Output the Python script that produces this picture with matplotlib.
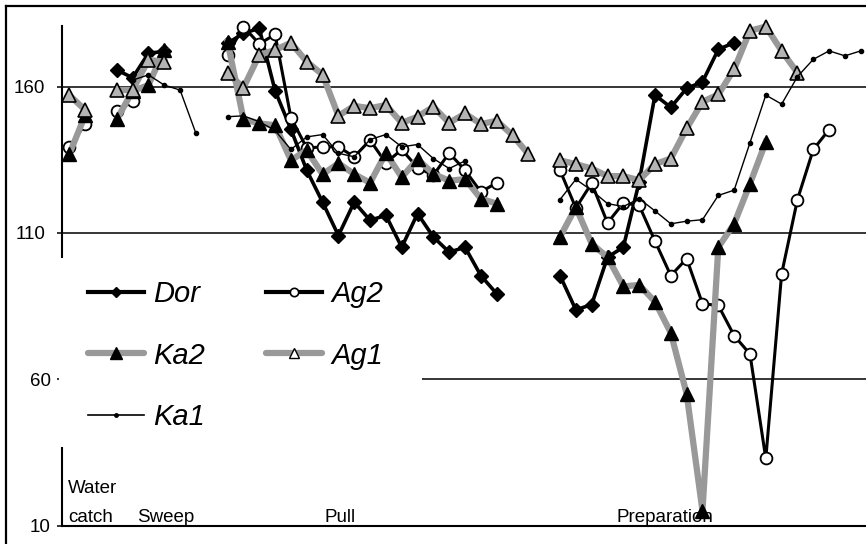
import matplotlib
matplotlib.use('Agg')
import matplotlib.pyplot as plt
from matplotlib.lines import Line2D
from matplotlib.patches import Rectangle
import numpy as np

N = None
# 51 category slots: 0-1 water catch, 3-8 sweep, 10-29 pull, 31-50 preparation
categories = list(range(51))

dor = [N, N, N,
       165.7, 163.0, 171.4, 172.0, N, N, N,
       174.8, 178.2, 179.9, 158.6, 145.4, 131.4, 120.5, 109.1, 120.5, 114.3,
       116.0, 105.1, 116.6, 108.6, 103.4, 105.1, 95.4, 89.2, N, N, N,
       95.4, 83.7, 85.5, 101.7, 105.1, 127.4, 157.1, 152.9, 159.4, 161.6,
       172.7, 175.0, N, N, N, N, N, N, N, N]

ag2 = [139.4, 147.1, N,
       151.6, 155.0, N, N, N, N, N,
       170.8, 180.5, 174.6, 177.8, 149.4, 139.0, 139.4, 139.4, 136.0, 141.7,
       133.9, 138.5, 132.3, 129.7, 137.3, 131.4, 124.0, 127.1, N, N, N,
       131.4, 118.5, 127.0, 113.4, 120.2, 119.4, 107.2, 95.4, 101.2, 85.8,
       85.2, 74.9, 68.6, 32.9, 96.0, 121.4, 138.5, 145.3, N, N]

ka2 = [136.9, 150.2, N,
       148.8, 158.5, 160.5, 172.5, N, N, N,
       175.3, 148.9, 147.4, 146.8, 134.8, 138.3, 130.0, 133.8, 130.1, 127.1,
       137.3, 129.0, 135.2, 130.2, 127.8, 128.4, 121.7, 120.0, N, N, N,
       108.6, 118.8, 106.3, 101.7, 91.7, 92.2, 86.5, 75.8, 55.0, 15.0,
       105.1, 113.1, 126.8, 141.1, N, N, N, N, N, N]

ag1 = [157.1, 152.0, N,
       158.8, 158.8, 169.1, 168.5, N, N, N,
       164.7, 159.6, 170.8, 172.5, 175.0, 168.5, 164.1, 150.0, 153.4, 152.6,
       153.7, 147.6, 149.7, 153.1, 147.6, 150.8, 147.2, 148.3, 143.4, 136.9, N,
       134.8, 133.5, 132.0, 129.4, 129.4, 128.0, 133.5, 135.4, 145.7, 154.8,
       157.3, 165.9, 179.1, 180.5, 172.2, 164.7, N, N, N, N]

ka1 = [N, N, N,
       N, 162.2, 164.0, 160.5, 158.8, 144.0, N,
       149.7, 150.0, 148.0, 145.0, 138.5, 142.8, 143.6, 137.2, 136.0, 141.9,
       143.6, 139.4, 140.2, 135.4, 132.0, 134.6, N, N, N, N, N,
       121.4, 128.3, 124.5, 120.0, 119.0, 121.7, 117.5, 113.1, 114.0, 114.5,
       122.8, 124.6, 140.8, 157.1, 154.0, 163.4, 169.3, 172.2, 170.5, 172.2]

series_names = ['Dor', 'Ag2', 'Ka2', 'Ag1', 'Ka1']
y_ticks = [10, 60, 110, 160]
phase_labels = ['Water', 'catch', 'Sweep', 'Pull', 'Preparation']

W, H = 866, 544
plt.rcParams['font.family'] = ['Liberation Sans', 'DejaVu Sans']
fig = plt.figure(figsize=(W / 100, H / 100), dpi=100)


def fx(px):
    return px / W


def fy(py):
    return 1 - py / H


ax = fig.add_axes([fx(62), fy(525.5), (W - 62) / W, (525.5 - 26) / H])
ax.set_xlim(-0.461, 50.33)
ax.set_ylim(10, 180.7)

x = np.array(categories, dtype=float)


def arr(v):
    return np.array([np.nan if a is None else a for a in v], dtype=float)


GRAY = '#999999'
ax.plot(x, arr(dor), color='black', lw=2.6, marker='D', ms=7.5, mfc='black',
        mec='black', zorder=3, clip_on=False, solid_joinstyle='round')
ax.plot(x, arr(ag2), color='black', lw=2.2, marker='o', ms=8.5, mfc='white',
        mec='black', mew=1.3, zorder=4, clip_on=False, solid_joinstyle='round')
ax.plot(x, arr(ka2), color=GRAY, lw=4.5, marker='^', ms=9.5, mfc='black',
        mec='black', zorder=5, clip_on=False, solid_joinstyle='round')
ax.plot(x, arr(ag1), color=GRAY, lw=4.5, marker='^', ms=10, mfc='#b4b4b4',
        mec='black', mew=1.2, zorder=6, clip_on=False, solid_joinstyle='round')
ax.plot(x, arr(ka1), color='black', lw=1.0, marker='o', ms=3, mfc='black',
        mec='black', zorder=7, clip_on=False)

# axes styling
for s in ['top', 'right']:
    ax.spines[s].set_visible(False)
ax.spines['left'].set_linewidth(1.5)
ax.spines['bottom'].set_linewidth(1.5)
ax.set_xticks([])
ax.set_yticks(y_ticks)
ax.set_yticklabels([str(t) for t in y_ticks])
ax.yaxis.grid(True, color='black', lw=1.1)
ax.set_axisbelow(True)
ax.tick_params(axis='y', direction='out', length=3.6, width=1.1,
               labelsize=13.5, pad=4.5)
for tk, val in zip(ax.yaxis.get_major_ticks(), y_ticks):
    if val >= 110:
        tk.set_pad(8.6)

# white box behind legend (covers axis and gridline)
fig.add_artist(Rectangle((fx(58.5), fy(447)), (422 - 58.5) / W, (447 - 258) / H,
                         transform=fig.transFigure, facecolor='white',
                         edgecolor='none', zorder=4.5))

handles = [
    Line2D([], [], color='black', lw=3.0, marker='D', ms=5, mfc='black', mec='black'),
    Line2D([], [], color=GRAY, lw=4.5, marker='^', ms=8, mfc='black', mec='black',
           solid_capstyle='round'),
    Line2D([], [], color='black', lw=1.2, marker='o', ms=2.5, mfc='black', mec='black'),
    Line2D([], [], color='black', lw=3.0, marker='o', ms=6, mfc='white', mec='black', mew=1.2),
    Line2D([], [], color=GRAY, lw=4.5, marker='^', ms=6.5, mfc='white', mec='black', mew=1.0,
           solid_capstyle='round'),
]
labels = ['Dor', 'Ka2', 'Ka1', 'Ag2', 'Ag1']
fig.legend(handles, labels, ncol=2, loc='center left',
           bbox_to_anchor=(fx(88), fy(355.5)), frameon=False,
           prop=dict(family='Liberation Sans', style='italic', size=21),
           handlelength=1.92, handletextpad=0.31, columnspacing=2.1,
           labelspacing=1.15, borderpad=0, borderaxespad=0)

# phase labels
fs = 13.5
fig.text(fx(68), fy(493.3), phase_labels[0], ha='left', va='baseline', fontsize=fs)
fig.text(fx(68), fy(521.5), phase_labels[1], ha='left', va='baseline', fontsize=fs)
fig.text(fx(137), fy(521.5), phase_labels[2], ha='left', va='baseline', fontsize=fs)
fig.text(fx(325), fy(521.5), phase_labels[3], ha='left', va='baseline', fontsize=fs)
fig.text(fx(616), fy(521.5), phase_labels[4], ha='left', va='baseline', fontsize=fs)

# outer frame (top and left visible)
fig.add_artist(Line2D([fx(6), 1.0], [fy(6), fy(6)], transform=fig.transFigure,
                      color='black', lw=1.6))
fig.add_artist(Line2D([fx(6), fx(6)], [fy(6), 0.0], transform=fig.transFigure,
                      color='black', lw=1.6))

fig.savefig('out.png', dpi=100)
